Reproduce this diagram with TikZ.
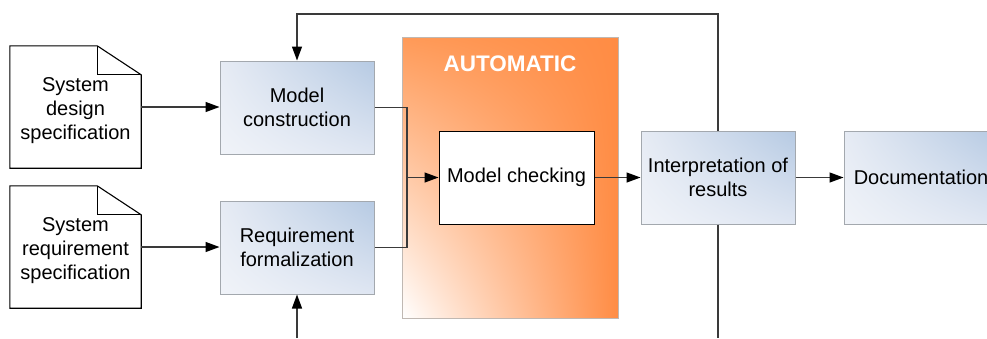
\documentclass[tikz,border=0pt]{standalone}
\usepackage{fontspec}
\setmainfont{Liberation Sans}
\usetikzlibrary{arrows.meta,calc,shadings}
\definecolor{lineC}{HTML}{3A3A3A}
\definecolor{blueD}{HTML}{B6CAE3}
\definecolor{blueL}{HTML}{E6EBF4}
\definecolor{blueM}{HTML}{DFE6F2}
\definecolor{blueB}{HTML}{A3A8AE}
\definecolor{orgD}{HTML}{FF8C44}
\definecolor{orgM}{HTML}{FF9A58}
\definecolor{orgB}{HTML}{C0B8B2}
\tikzset{
  txt/.style={font=\fontsize{20}{24}\selectfont, align=center, text=black},
  bluebox/.style={txt, draw=blueB, line width=1pt, minimum width=154pt, minimum height=93pt,
    inner sep=0pt, shading=bilinear interpolation,
    upper left=blueL, upper right=blueD, lower left=blueL!60!white, lower right=blueM},
  whitebox/.style={txt, draw=black, line width=1pt, fill=white, minimum width=155pt, minimum height=93pt, inner sep=0pt},
  docnode/.style={txt, minimum width=131pt, minimum height=122pt, inner sep=0pt},
  docline/.style={draw=black, line width=1.1pt, fill=white, line join=miter},
  conn/.style={draw=lineC, line width=1.3pt},
  arr/.style={conn, -{Triangle[length=14pt,width=10pt,color=black]}},
}
\begin{document}
\begin{tikzpicture}[x=1pt,y=-1pt]
\useasboundingbox (0,0) rectangle (987,338);
\clip (0,0) rectangle (987,338);
% automatic region
\node[draw=orgB, line width=1pt, minimum width=216pt, minimum height=281pt, inner sep=0pt,
  shading=bilinear interpolation, upper left=orgM, upper right=orgD, lower left=white, lower right=orgD]
  (auto) at (510,177.5) {};
\node[font=\bfseries\fontsize{22.5}{26}\selectfont, text=white] (autolbl) at (510,64) {AUTOMATIC};
% documents
\node[docnode] (doc1) at (75.5,107) {};
\node[docnode] (doc2) at (75.5,247) {};
\foreach \d in {doc1,doc2}{
  \path[docline] (\d.south west) -- (\d.north west) -- ($(\d.north east)+(-44,0)$)
    -- ($(\d.north east)+(0,29)$) -- (\d.south east) -- cycle;
  \draw[line width=1.1pt] ($(\d.north east)+(-44,0)$) -- ($(\d.north east)+(-44,29)$) -- ($(\d.north east)+(0,29)$);
}
\node[txt] (doc1t) at (75.5,111) {System\\design\\specification};
\node[txt] (doc2t) at (75.5,251) {System\\requirement\\specification};
% boxes
\node[bluebox] (mc) at (297,107.5) {Model\\construction};
\node[bluebox] (req) at (297,247.5) {Requirement\\formalization};
\node[whitebox] (chk) at (516.5,177.5) {Model checking};
\node[bluebox] (interp) at (718,177.5) {Interpretation of\\results};
\node[bluebox] (docu) at (921,177.5) {Documentation};
% connectors
\coordinate (j) at (407,177.5);
\coordinate (fb) at (507,14);
\coordinate (b1) at (718,338);
\coordinate (b2) at (297,338);
\draw[arr] (doc1.east) -- (doc1.east -| mc.west);
\draw[arr] (doc2.east) -- (doc2.east -| req.west);
\draw[conn] (mc.east) -| (j);
\draw[conn] (req.east) -| (j);
\draw[arr] (j) -- (chk.west);
\draw[arr] (chk.east) -- (interp.west);
\draw[arr] (interp.east) -- (docu.west);
\draw[arr] (interp.north) |- (fb) -| (mc.north);
\draw[conn] (interp.south) -- (b1);
\draw[arr] (b2) -- (req.south);
\end{tikzpicture}
\end{document}
